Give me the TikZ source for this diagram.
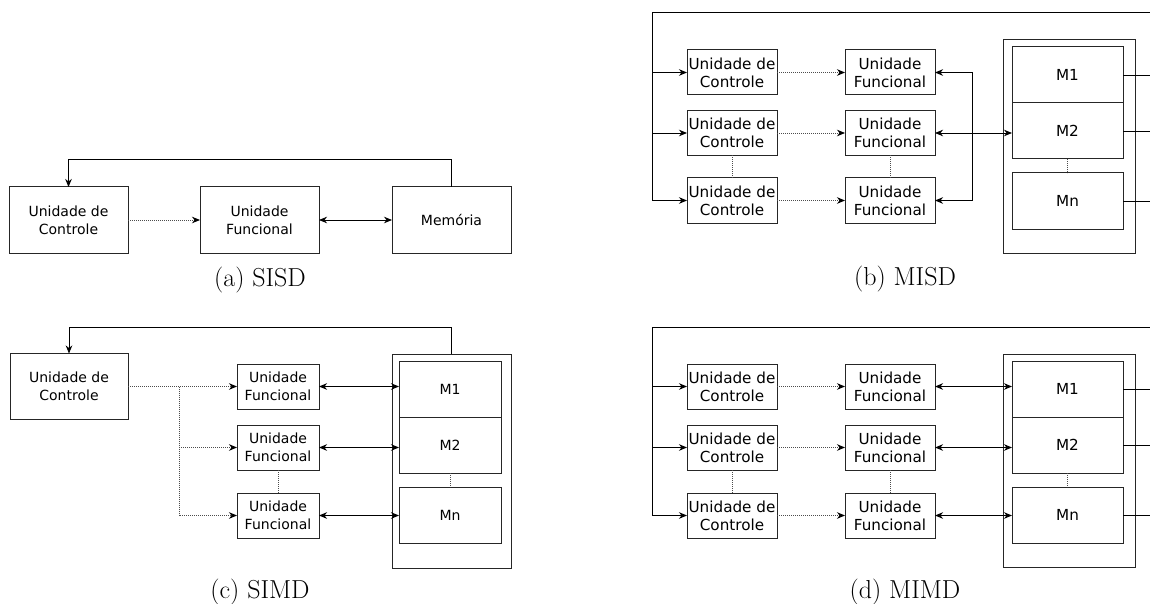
\documentclass[tikz,border=0pt]{standalone}
\usepackage{fontspec}
\newfontfamily\boxfont{DejaVu Sans}
\usetikzlibrary{arrows.meta}
\begin{document}
\begin{tikzpicture}[x=1pt,y=-1pt,
  box/.style={draw=black!85,line width=1pt,inner sep=0pt,outer sep=0pt,align=center},
  sm/.style={font=\boxfont\fontsize{14}{18}\selectfont},
  lg/.style={font=\boxfont\fontsize{15.2}{18.3}\selectfont},
  conn/.style={line width=0.9pt},
  tip/.style={conn,-{Stealth[length=8pt,width=6.5pt,inset=2.5pt]}},
  dtip/.style={conn,{Stealth[length=8pt,width=6.5pt,inset=2.5pt]}-{Stealth[length=8pt,width=6.5pt,inset=2.5pt]}},
  dots/.style={line width=0.9pt,gray!60!black,dash pattern=on 0.9pt off 1.1pt},
  dtipd/.style={dots,-{Stealth[length=8pt,width=6.5pt,inset=2.5pt,black]}},
  captext/.style={font=\fontsize{26}{30}\selectfont}]
\useasboundingbox (0,0) rectangle (1150,604);

% ---------------- (a) SISD ----------------
\node[box,sm,minimum width=119pt,minimum height=66pt] (a-uc) at (68.5,220) {Unidade de\\Controle};
\node[box,sm,minimum width=119pt,minimum height=66pt] (a-uf) at (259.5,220) {Unidade\\Funcional};
\node[box,sm,minimum width=119pt,minimum height=66pt] (a-mem) at (451.5,220) {Memória};
\coordinate (a-top) at (451.5,159);
\draw[tip] (a-mem.north) -- (a-top) -| (a-uc.north);
\draw[dtipd] (a-uc.east) -- (a-uf.west);
\draw[dtip] (a-uf.east) -- (a-mem.west);
\node[captext] (a-cap) at (260,280) {(a) SISD};

% ---------------- (b) MISD ----------------
\foreach \i/\y in {1/72.5,2/133,3/200.5}{
  \node[box,lg,minimum width=90pt,minimum height=45pt] (b-uc\i) at (732,\y) {Unidade de\\Controle};
  \node[box,lg,minimum width=90pt,minimum height=45pt] (b-uf\i) at (890,\y) {Unidade\\Funcional};
  \draw[dtipd] (b-uc\i.east) -- (b-uf\i.west);
}
\node[box,minimum width=132pt,minimum height=213pt] (b-mem) at (1069,146.5) {};
\node[box,lg,minimum width=111pt,minimum height=56pt] (b-m1) at (1067.5,75) {M1};
\node[box,lg,minimum width=111pt,minimum height=56pt] (b-m2) at (1067.5,131) {M2};
\node[box,lg,minimum width=111pt,minimum height=56pt] (b-mn) at (1067.5,201) {Mn};
\coordinate (b-tl) at (652,12);
\coordinate (b-tr) at (1150,12);
\coordinate (b-rb) at (972,0);
\draw[tip] (b-tr) -- (b-tl) |- (b-uc3.west);
\draw[tip] (b-uc1.west -| b-tl) -- (b-uc1.west);
\draw[tip] (b-uc2.west -| b-tl) -- (b-uc2.west);
\draw[dots] (b-uc2.south) -- (b-uc3.north);
\draw[dots] (b-uf2.south) -- (b-uf3.north);
\draw[tip] (b-uf2.east -| b-rb) |- (b-uf1.east);
\draw[tip] (b-uf2.east -| b-rb) |- (b-uf3.east);
\draw[dtip] (b-uf2.east) -- (b-m2.west |- b-uf2.east);
\draw[dots] (b-m2.south) -- (b-mn.north);
\draw[conn] (b-m1.east) -- (b-m1.east -| b-tr);
\draw[conn] (b-m2.east) -- (b-m2.east -| b-tr);
\draw[conn] (b-mn.east) -- (b-mn.east -| b-tr);
\node[captext] (b-cap) at (905,279) {(b) MISD};

% ---------------- (c) SIMD ----------------
\node[box,sm,minimum width=118pt,minimum height=66pt] (c-uc) at (69,386.5) {Unidade de\\Controle};
\foreach \i/\y in {1/386.5,2/447.5,3/515.5}{
  \node[box,sm,minimum width=82pt,minimum height=45pt] (c-uf\i) at (278,\y) {Unidade\\Funcional};
}
\node[box,minimum width=119pt,minimum height=214pt] (c-mem) at (451.5,461) {};
\node[box,sm,minimum width=102pt,minimum height=56pt] (c-m1) at (450,389) {M1};
\node[box,sm,minimum width=102pt,minimum height=56pt] (c-m2) at (450,445) {M2};
\node[box,sm,minimum width=102pt,minimum height=56pt] (c-mn) at (450,515) {Mn};
\coordinate (c-top) at (451.5,327);
\draw[tip] (c-mem.north -| c-top) -- (c-top) -| (c-uc.north);
\coordinate (c-br) at (179,386.5);
\draw[dtipd] (c-uc.east) -- (c-uf1.west);
\draw[dtipd] (c-br) |- (c-uf3.west);
\draw[dtipd] (c-br |- c-uf2.west) -- (c-uf2.west);
\draw[dots] (c-uf2.south) -- (c-uf3.north);
\draw[dtip] (c-uf1.east) -- (c-m1.west |- c-uf1.east);
\draw[dtip] (c-uf2.east) -- (c-m2.west |- c-uf2.east);
\draw[dtip] (c-uf3.east) -- (c-mn.west |- c-uf3.east);
\draw[dots] (c-m2.south) -- (c-mn.north);
\node[captext] (c-cap) at (260,592) {(c) SIMD};

% ---------------- (d) MIMD ----------------
\foreach \i/\y in {1/386.5,2/447.5,3/515.5}{
  \node[box,lg,minimum width=90pt,minimum height=45pt] (d-uc\i) at (732,\y) {Unidade de\\Controle};
  \node[box,lg,minimum width=90pt,minimum height=45pt] (d-uf\i) at (890,\y) {Unidade\\Funcional};
  \draw[dtipd] (d-uc\i.east) -- (d-uf\i.west);
}
\node[box,minimum width=132pt,minimum height=213pt] (d-mem) at (1069,460.5) {};
\node[box,lg,minimum width=111pt,minimum height=56pt] (d-m1) at (1067.5,389) {M1};
\node[box,lg,minimum width=111pt,minimum height=56pt] (d-m2) at (1067.5,445) {M2};
\node[box,lg,minimum width=111pt,minimum height=56pt] (d-mn) at (1067.5,515) {Mn};
\coordinate (d-tl) at (652,327);
\coordinate (d-tr) at (1150,327);
\draw[tip] (d-tr) -- (d-tl) |- (d-uc3.west);
\draw[tip] (d-uc1.west -| d-tl) -- (d-uc1.west);
\draw[tip] (d-uc2.west -| d-tl) -- (d-uc2.west);
\draw[dots] (d-uc2.south) -- (d-uc3.north);
\draw[dots] (d-uf2.south) -- (d-uf3.north);
\draw[dtip] (d-uf1.east) -- (d-m1.west |- d-uf1.east);
\draw[dtip] (d-uf2.east) -- (d-m2.west |- d-uf2.east);
\draw[dtip] (d-uf3.east) -- (d-mn.west |- d-uf3.east);
\draw[dots] (d-m2.south) -- (d-mn.north);
\draw[conn] (d-m1.east) -- (d-m1.east -| d-tr);
\draw[conn] (d-m2.east) -- (d-m2.east -| d-tr);
\draw[conn] (d-mn.east) -- (d-mn.east -| d-tr);
\node[captext] (d-cap) at (905,592) {(d) MIMD};
\end{tikzpicture}
\end{document}
